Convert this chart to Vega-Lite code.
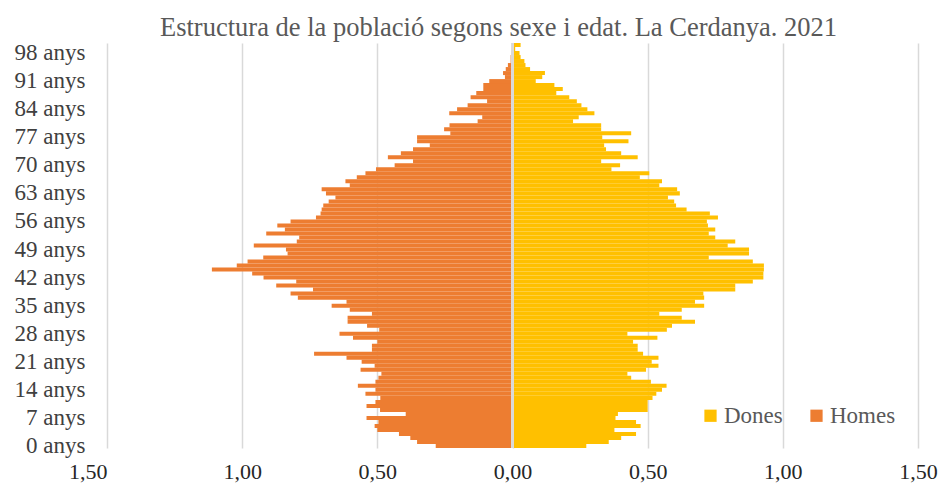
{
  "$schema": "https://vega.github.io/schema/vega-lite/v6.json",
  "width": 811,
  "height": 405,
  "autosize": {"type": "none"},
  "padding": {"left": 107, "top": 43, "right": 26, "bottom": 47},
  "background": "white",
  "title": {
    "text": "Estructura de la població segons sexe i edat. La Cerdanya. 2021",
    "font": "Liberation Serif",
    "fontSize": 26.5,
    "fontWeight": "normal",
    "color": "#595959",
    "anchor": "middle",
    "offset": 0,
    "dx": -14
  },
  "config": {"view": {"stroke": null}, "font": "Liberation Serif"},
  "data": {
    "values": [
      {"edat": 0, "Homes": -0.284, "Dones": 0.273},
      {"edat": 1, "Homes": -0.353, "Dones": 0.356},
      {"edat": 2, "Homes": -0.378, "Dones": 0.402},
      {"edat": 3, "Homes": -0.42, "Dones": 0.457},
      {"edat": 4, "Homes": -0.5, "Dones": 0.377},
      {"edat": 5, "Homes": -0.51, "Dones": 0.474},
      {"edat": 6, "Homes": -0.496, "Dones": 0.457},
      {"edat": 7, "Homes": -0.54, "Dones": 0.381},
      {"edat": 8, "Homes": -0.395, "Dones": 0.39},
      {"edat": 9, "Homes": -0.49, "Dones": 0.5},
      {"edat": 10, "Homes": -0.54, "Dones": 0.5},
      {"edat": 11, "Homes": -0.507, "Dones": 0.5},
      {"edat": 12, "Homes": -0.489, "Dones": 0.518},
      {"edat": 13, "Homes": -0.544, "Dones": 0.532},
      {"edat": 14, "Homes": -0.507, "Dones": 0.553},
      {"edat": 15, "Homes": -0.572, "Dones": 0.57},
      {"edat": 16, "Homes": -0.507, "Dones": 0.512},
      {"edat": 17, "Homes": -0.496, "Dones": 0.439},
      {"edat": 18, "Homes": -0.485, "Dones": 0.425},
      {"edat": 19, "Homes": -0.562, "Dones": 0.494},
      {"edat": 20, "Homes": -0.51, "Dones": 0.54},
      {"edat": 21, "Homes": -0.558, "Dones": 0.515},
      {"edat": 22, "Homes": -0.614, "Dones": 0.54},
      {"edat": 23, "Homes": -0.734, "Dones": 0.483},
      {"edat": 24, "Homes": -0.52, "Dones": 0.463},
      {"edat": 25, "Homes": -0.52, "Dones": 0.463},
      {"edat": 26, "Homes": -0.5, "Dones": 0.446},
      {"edat": 27, "Homes": -0.59, "Dones": 0.536},
      {"edat": 28, "Homes": -0.64, "Dones": 0.425},
      {"edat": 29, "Homes": -0.493, "Dones": 0.571},
      {"edat": 30, "Homes": -0.538, "Dones": 0.59},
      {"edat": 31, "Homes": -0.61, "Dones": 0.675},
      {"edat": 32, "Homes": -0.61, "Dones": 0.626},
      {"edat": 33, "Homes": -0.52, "Dones": 0.543},
      {"edat": 34, "Homes": -0.602, "Dones": 0.626},
      {"edat": 35, "Homes": -0.669, "Dones": 0.709},
      {"edat": 36, "Homes": -0.614, "Dones": 0.675},
      {"edat": 37, "Homes": -0.794, "Dones": 0.709},
      {"edat": 38, "Homes": -0.821, "Dones": 0.706},
      {"edat": 39, "Homes": -0.738, "Dones": 0.824},
      {"edat": 40, "Homes": -0.874, "Dones": 0.824},
      {"edat": 41, "Homes": -0.8, "Dones": 0.889},
      {"edat": 42, "Homes": -0.921, "Dones": 0.928},
      {"edat": 43, "Homes": -0.963, "Dones": 0.928},
      {"edat": 44, "Homes": -1.112, "Dones": 0.93},
      {"edat": 45, "Homes": -1.02, "Dones": 0.93},
      {"edat": 46, "Homes": -0.98, "Dones": 0.889},
      {"edat": 47, "Homes": -0.922, "Dones": 0.726},
      {"edat": 48, "Homes": -0.832, "Dones": 0.875},
      {"edat": 49, "Homes": -0.838, "Dones": 0.875},
      {"edat": 50, "Homes": -0.957, "Dones": 0.796},
      {"edat": 51, "Homes": -0.798, "Dones": 0.824},
      {"edat": 52, "Homes": -0.789, "Dones": 0.75},
      {"edat": 53, "Homes": -0.911, "Dones": 0.726},
      {"edat": 54, "Homes": -0.842, "Dones": 0.75},
      {"edat": 55, "Homes": -0.87, "Dones": 0.723},
      {"edat": 56, "Homes": -0.821, "Dones": 0.719},
      {"edat": 57, "Homes": -0.727, "Dones": 0.76},
      {"edat": 58, "Homes": -0.71, "Dones": 0.73},
      {"edat": 59, "Homes": -0.706, "Dones": 0.644},
      {"edat": 60, "Homes": -0.7, "Dones": 0.605},
      {"edat": 61, "Homes": -0.68, "Dones": 0.598},
      {"edat": 62, "Homes": -0.655, "Dones": 0.575},
      {"edat": 63, "Homes": -0.69, "Dones": 0.619},
      {"edat": 64, "Homes": -0.706, "Dones": 0.609},
      {"edat": 65, "Homes": -0.602, "Dones": 0.543},
      {"edat": 66, "Homes": -0.618, "Dones": 0.553},
      {"edat": 67, "Homes": -0.576, "Dones": 0.471},
      {"edat": 68, "Homes": -0.544, "Dones": 0.506},
      {"edat": 69, "Homes": -0.505, "Dones": 0.366},
      {"edat": 70, "Homes": -0.436, "Dones": 0.398},
      {"edat": 71, "Homes": -0.368, "Dones": 0.328},
      {"edat": 72, "Homes": -0.461, "Dones": 0.463},
      {"edat": 73, "Homes": -0.413, "Dones": 0.402},
      {"edat": 74, "Homes": -0.368, "Dones": 0.346},
      {"edat": 75, "Homes": -0.306, "Dones": 0.339},
      {"edat": 76, "Homes": -0.353, "Dones": 0.429},
      {"edat": 77, "Homes": -0.353, "Dones": 0.332},
      {"edat": 78, "Homes": -0.23, "Dones": 0.439},
      {"edat": 79, "Homes": -0.253, "Dones": 0.328},
      {"edat": 80, "Homes": -0.233, "Dones": 0.328},
      {"edat": 81, "Homes": -0.129, "Dones": 0.224},
      {"edat": 82, "Homes": -0.112, "Dones": 0.245},
      {"edat": 83, "Homes": -0.234, "Dones": 0.303},
      {"edat": 84, "Homes": -0.205, "Dones": 0.277},
      {"edat": 85, "Homes": -0.166, "Dones": 0.255},
      {"edat": 86, "Homes": -0.094, "Dones": 0.238},
      {"edat": 87, "Homes": -0.155, "Dones": 0.21},
      {"edat": 88, "Homes": -0.134, "Dones": 0.162},
      {"edat": 89, "Homes": -0.108, "Dones": 0.186},
      {"edat": 90, "Homes": -0.108, "Dones": 0.155},
      {"edat": 91, "Homes": -0.086, "Dones": 0.086},
      {"edat": 92, "Homes": -0.028, "Dones": 0.11},
      {"edat": 93, "Homes": -0.035, "Dones": 0.12},
      {"edat": 94, "Homes": -0.025, "Dones": 0.065},
      {"edat": 95, "Homes": -0.017, "Dones": 0.048},
      {"edat": 96, "Homes": -0.007, "Dones": 0.044},
      {"edat": 97, "Homes": -0.007, "Dones": 0.03},
      {"edat": 98, "Homes": -0.005, "Dones": 0.026},
      {"edat": 99, "Homes": -0.002, "Dones": 0.01},
      {"edat": 100, "Homes": 0, "Dones": 0.03}
    ]
  },
  "transform": [{"fold": ["Homes", "Dones"], "as": ["sexe", "valor"]}],
  "layer": [
    {
      "mark": {"type": "bar"},
      "encoding": {
        "y": {
          "field": "edat",
          "type": "ordinal",
          "sort": "descending",
          "scale": {"paddingInner": 0, "paddingOuter": 0},
          "axis": {
            "values": [0, 7, 14, 21, 28, 35, 42, 49, 56, 63, 70, 77, 84, 91, 98],
            "labelExpr": "datum.value + ' anys'",
            "domain": false,
            "ticks": false,
            "labelPadding": 22,
            "labelFontSize": 23,
            "labelFont": "Liberation Serif",
            "labelColor": "#404040",
            "title": null
          }
        },
        "x": {
          "field": "valor",
          "type": "quantitative",
          "scale": {"domain": [-1.5, 1.5], "nice": false},
          "axis": {
            "values": [-1.5, -1, -0.5, 0, 0.5, 1, 1.5],
            "labelExpr": "replace(format(abs(datum.value), '.2f'), '.', ',')",
            "labelFlush": false,
            "labelAlign": {"condition": {"test": "datum.value == -1.5", "value": "right"}, "value": "center"},
            "grid": true,
            "gridColor": "#d9d9d9",
            "gridWidth": 1.5,
            "domain": false,
            "ticks": false,
            "labelPadding": 13,
            "labelFontSize": 22,
            "labelFont": "Liberation Serif",
            "labelColor": "#262626",
            "title": null
          }
        },
        "color": {
          "field": "sexe",
          "type": "nominal",
          "scale": {"domain": ["Dones", "Homes"], "range": ["#FFC000", "#ED7D31"]},
          "legend": {
            "orient": "none",
            "legendX": 592,
            "legendY": 361,
            "direction": "horizontal",
            "title": null,
            "symbolType": "square",
            "symbolSize": 150,
            "symbolStrokeWidth": 0,
            "labelFontSize": 23,
            "labelFont": "Liberation Serif",
            "labelColor": "#595959",
            "labelOffset": 2,
            "columnPadding": 22
          }
        }
      }
    },
    {
      "mark": {"type": "rule", "color": "#d9d9d9", "strokeWidth": 1.5},
      "encoding": {"x": {"datum": 0}}
    }
  ]
}
